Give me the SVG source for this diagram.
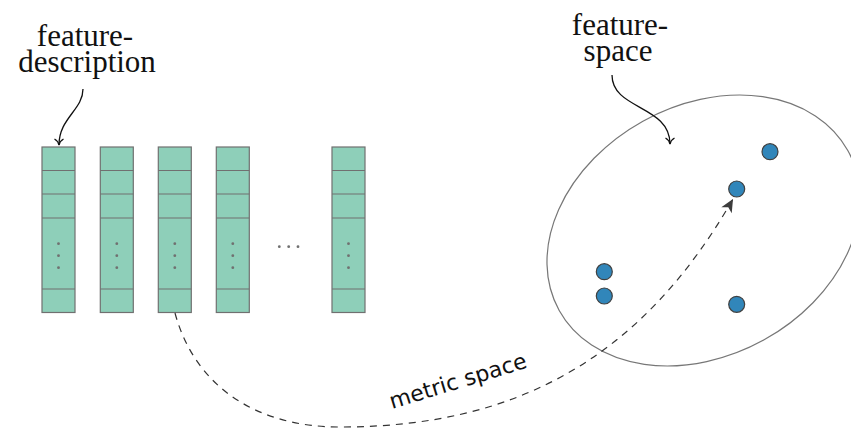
<svg xmlns="http://www.w3.org/2000/svg" width="851" height="430" viewBox="0 0 851 430">
  <style>
    .cell { fill: #8ecfb9; stroke: #707070; stroke-width: 1.2; }
    .sep { stroke: #707070; stroke-width: 1.2; }
    .vdot { fill: #707070; }
    .label { font-family: "Liberation Serif", "DejaVu Serif", serif; font-size: 31px; fill: #111; text-anchor: middle; }
    .pt { fill: #3186ba; stroke: #404040; stroke-width: 1.2; }
    .pointer { fill: none; stroke: #111; stroke-width: 1.3; }
    .metric { fill: none; stroke: #333; stroke-width: 1.2; stroke-dasharray: 7 6; }
  </style>
  <defs>
    <marker id="to" markerUnits="userSpaceOnUse" viewBox="-8 -6 10 12" refX="0" refY="0" markerWidth="10" markerHeight="12" orient="auto">
      <path d="M -6 -4.5 C -4.5 -1.8 -1.5 -0.3 0 0 C -1.5 0.3 -4.5 1.8 -6 4.5" fill="none" stroke="#111" stroke-width="1.3"/>
    </marker>
    <marker id="stealth" markerUnits="userSpaceOnUse" viewBox="-14 -7 15 14" refX="0" refY="0" markerWidth="15" markerHeight="14" orient="auto">
      <path d="M 0 0 L -13 -6 L -9.5 0 L -13 6 Z" fill="#3c3c3c"/>
    </marker>
    <g id="column">
      <rect class="cell" x="0" y="0" width="33" height="165.5"/>
      <line class="sep" x1="0" y1="23.5" x2="33" y2="23.5"/>
      <line class="sep" x1="0" y1="47" x2="33" y2="47"/>
      <line class="sep" x1="0" y1="71" x2="33" y2="71"/>
      <line class="sep" x1="0" y1="142" x2="33" y2="142"/>
      <circle class="vdot" cx="16.5" cy="96.7" r="1.4"/>
      <circle class="vdot" cx="16.5" cy="108.7" r="1.4"/>
      <circle class="vdot" cx="16.5" cy="120.7" r="1.4"/>
    </g>
  </defs>

  <!-- feature vectors -->
  <g id="vec1"><use href="#column" x="42" y="147"/></g>
  <g id="vec2"><use href="#column" x="100.3" y="147"/></g>
  <g id="vec3"><use href="#column" x="158.3" y="147"/></g>
  <g id="vec4"><use href="#column" x="216.3" y="147"/></g>
  <g id="hdots">
    <circle class="vdot" cx="279.3" cy="246.7" r="1.4"/>
    <circle class="vdot" cx="288.7" cy="246.7" r="1.4"/>
    <circle class="vdot" cx="298" cy="246.7" r="1.4"/>
  </g>
  <g id="vecN"><use href="#column" x="332" y="147"/></g>

  <!-- feature space -->
  <g id="space">
    <ellipse cx="703.5" cy="230.5" rx="165" ry="125" transform="rotate(-29 703.5 230.5)" fill="none" stroke="#777" stroke-width="1.2"/>
  </g>
  <g id="points">
    <circle class="pt" cx="770" cy="151.7" r="8"/>
    <circle class="pt" cx="736.7" cy="189" r="8"/>
    <circle class="pt" cx="604.3" cy="271.7" r="8"/>
    <circle class="pt" cx="604.3" cy="296" r="8"/>
    <circle class="pt" cx="736.7" cy="304.3" r="8"/>
  </g>

  <!-- labels (two-line) -->
  <g id="label-description">
    <text class="label"><tspan x="85" y="46">feature-</tspan><tspan x="87" y="72">description</tspan></text>
  </g>
  <g id="label-space">
    <text class="label"><tspan x="620" y="35">feature-</tspan><tspan x="618" y="61">space</tspan></text>
  </g>

  <!-- connectors -->
  <g id="connectors">
    <path class="pointer" d="M 83 89 C 83 110 59 118 59 145" marker-end="url(#to)"/>
    <path class="pointer" d="M 612 75 C 612 110 670 105 670 144" marker-end="url(#to)"/>
    <path class="metric" d="M 175 313 C 193.2 380.9 250 427 340 427 C 520 427 643 355.6 733 199" marker-end="url(#stealth)"/>
    <text x="392" y="409" transform="rotate(-17 392 409)" font-family="DejaVu Sans, sans-serif" font-size="22" fill="#111">metric space</text>
  </g>
</svg>
